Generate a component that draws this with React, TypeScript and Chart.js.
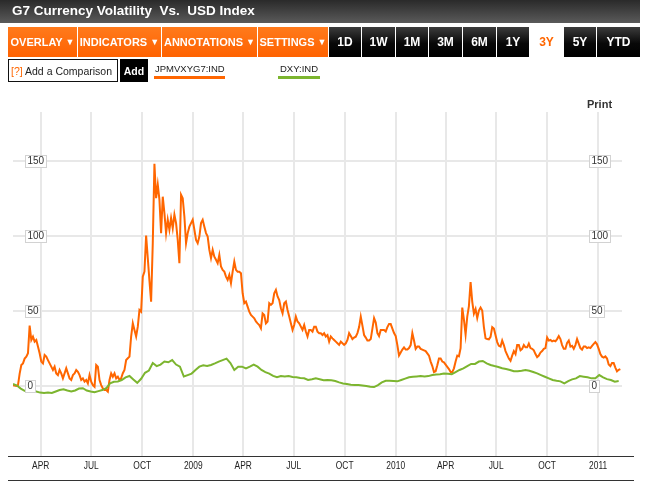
import React, { useEffect, useRef } from "react";
import { Chart, registerables } from "chart.js";

Chart.register(...registerables);

// ---- data (days counted from 2008-01-01) ----
const START_DAY = 41; // 2008-02-11
const JPM_STEP_DAYS = 3; // JPMVXYG7 read every 3 days
const DXY_STEP_DAYS = 7; // DXY read once a week
const X_MIN = 41;
const X_MAX = 1139;
const Y_MIN = -47;
const Y_MAX = 182.5;

const quarterTickDays = [91, 182, 274, 366, 456, 547, 639, 731, 821, 912, 1004, 1096];
const quarterTickLabels = ["APR", "JUL", "OCT", "2009", "APR", "JUL", "OCT", "2010", "APR", "JUL", "OCT", "2011"];
const yTickValues = [0, 50, 100, 150];
const yTickLabels = ["0", "50", "100", "150"];

const jpmvxyg7 = [
  0.3, 0, -0.3, 0.3, 8, 13.7, 14.8, 18, 19.3, 21.5,
  40, 30.4, 32.6, 29.3, 30.4, 26, 21.5, 16, 14.8, 20.4,
  19.3, 17, 14.8, 12.6, 10.4, 12.6, 8.1, 7, 10.4, 8.1,
  4.8, 8.1, 11.5, 8.1, 4.8, 3.7, 7, 8.1, 10.4, 9.2,
  7, 3.7, 4.8, 2.6, 3.7, 1.4, 7, 2.6, 0.3, -0.8,
  13.7, 12.6, 3.7, 0.3, -1.9, -3, -3, -4.1, 3.7, 8.1,
  5.9, 8.1, 4.8, 5.9, 3.8, 4.9, 8.2, 10.4, 17, 18.2,
  19.3, 32.7, 41.6, 37, 32.7, 39.3, 50.4, 49.3, 72.7, 76,
  100, 85, 70, 56, 95, 148, 125, 134, 124, 101.7,
  126, 115, 101.7, 110.6, 104, 111.7, 105, 114, 108.4, 97.2,
  81.6, 127.3, 125, 112.8, 95, 101.7, 106, 108.4, 110.6, 104,
  97.2, 95, 99.4, 108.4, 110.6, 106, 101.7, 99.4, 90.5, 85,
  90.5, 86, 83.9, 81.6, 87.2, 79.4, 77.2, 76, 72.7, 70.5,
  73.8, 68.3, 76, 82.7, 77.2, 76, 76, 75, 61.6, 54.9,
  56, 52.7, 49.3, 47.1, 46, 44.9, 42.7, 41.5, 40.4, 38.2,
  48.2, 47.1, 41.5, 42.7, 54.9, 53.8, 54.9, 61.6, 63.8, 59.4,
  57.1, 51.6, 48.2, 54.9, 56, 50.4, 46, 41.5, 37.1, 40.4,
  46, 42.7, 41.5, 39.3, 37.1, 40.4, 36, 32.7, 37.1, 37.1,
  36, 39.3, 39.3, 36, 34.9, 34.9, 33.7, 34.9, 32.7, 33.7,
  29.3, 32.7, 31.5, 30.4, 29.3, 28.2, 27.1, 29.3, 28.2, 27.1,
  28.2, 30.4, 34.9, 33, 31, 32, 32.6, 35, 39, 46,
  40, 33.7, 32, 30, 30, 31, 38, 45, 42, 35,
  33, 37, 37, 37, 36, 39, 41, 41, 38, 35,
  33, 27, 20, 22, 24, 25.5, 24, 24, 25, 27,
  35, 30, 24.5, 26, 26, 24.5, 24, 23.5, 23, 21.5,
  20, 16, 13, 9, 9.5, 13.5, 18, 18, 16, 15.5,
  14, 12.5, 11, 9, 9, 11.5, 16, 20, 19.5, 25,
  52, 44, 34, 46, 53, 69, 56, 48, 51, 45,
  50, 52, 50, 39, 31.5, 31, 30.8, 32.5, 39, 38,
  33.5, 29, 26.5, 26, 30, 27, 23, 20.5, 18, 16.5,
  20, 23, 21, 27, 27, 23.5, 24.5, 27, 25.5, 25.5,
  28, 25, 24.5, 23.5, 21, 19, 20, 22, 23, 24.5,
  25, 32, 30, 30.4, 29.5, 30, 29.5, 31, 33, 31,
  27, 24.5, 24.5, 28.5, 30, 26, 26.5, 24.5, 27, 31,
  28, 25, 24, 26, 26, 25, 25.5, 25, 26.5, 27.8,
  29, 27.5, 24.5, 21, 19.3, 18.7, 19.5, 18, 14, 13,
  15, 15, 12, 9.5, 10.5, 11,
];

const dxy = [
  1, 0, -2, -3.5, -4.2, -4, -4, -4.7, -5, -4.7,
  -5, -4, -3, -2.5, -3.3, -4, -3.3, -2, -1.8, -3.3,
  -4, -4.5, -3.7, -3, -1.8, 1.5, 2.5, 2.7, 3.7, 5.5,
  6.4, 4, 1.8, 4.5, 8.5, 10, 15, 13, 14, 16,
  15.5, 17, 14, 12.6, 6, 7, 8, 10.4, 12.6, 13.5,
  13, 13.7, 14.8, 16, 17, 18, 15, 10.4, 12.6, 12.6,
  11.5, 12.6, 14, 12.6, 10.4, 9, 8, 6.5, 5.5, 6.4,
  6, 6.4, 5.7, 5.5, 5, 4.8, 3.7, 4.2, 4.8, 4.2,
  3.5, 3.7, 3.5, 3, 2.1, 1.4, 1, 0.5, 0.3, 0.3,
  0.1, -0.3, -0.8, -1, 0.3, 2.1, 3.2, 3.2, 3, 2.8,
  3.7, 4.6, 5.5, 5.9, 6.1, 6.3, 6.1, 6.3, 7, 7.4,
  7.6, 8.1, 7.9, 7.6, 9, 10.4, 11.5, 13, 14.4, 14.4,
  16, 16.4, 14.8, 13.7, 13, 12.4, 11.5, 11, 10.4, 9.5,
  9.5, 9.9, 10.4, 9.9, 9, 8.1, 7, 5.9, 4.8, 3.7,
  3.2, 2.8, 1.4, 3, 4.1, 4.8, 6.3, 5.9, 5.5, 4.8,
  4.8, 7, 5.5, 4.3, 3.7, 2.6, 3,
];

const seriesNames = ["JPMVXYG7:IND", "DXY:IND"];
const menuLabels = ["OVERLAY", "INDICATORS", "ANNOTATIONS", "SETTINGS"];
const rangeLabels = ["1D", "1W", "1M", "3M", "6M", "1Y", "3Y", "5Y", "YTD"];
const activeRange = "3Y";

// ---- styles ----
const FONT = "'Liberation Sans', Arial, Helvetica, sans-serif";
const ORANGE = "#ff6600";
const GREEN = "#7cb52f";
const menuLayout = [
  { left: 8, width: 69 },
  { left: 78, width: 83 },
  { left: 162, width: 95 },
  { left: 258, width: 70 },
];
const rangeLayout = [
  { left: 329, width: 32 },
  { left: 362, width: 33 },
  { left: 396, width: 32 },
  { left: 429, width: 33 },
  { left: 463, width: 33 },
  { left: 497, width: 32 },
  { left: 530, width: 33 },
  { left: 564, width: 32 },
  { left: 597, width: 43 },
];

const overlayPlugin = {
  id: "overlayText",
  afterDatasetsDraw(chart: any) {
    const { ctx, chartArea, scales } = chart;
    const xs = scales.x;
    const ys = scales.y;
    ctx.save();
    // axis lines
    ctx.strokeStyle = "#333";
    ctx.lineWidth = 1.2;
    const by = Math.round(chartArea.bottom) + 0.5;
    ctx.beginPath();
    ctx.moveTo(8, by);
    ctx.lineTo(634, by);
    ctx.stroke();
    ctx.beginPath();
    ctx.moveTo(8, 480.5);
    ctx.lineTo(634, 480.5);
    ctx.stroke();
    // x labels (narrow)
    ctx.font = "10px " + FONT;
    ctx.fillStyle = "#222";
    ctx.textAlign = "center";
    ctx.textBaseline = "middle";
    quarterTickDays.forEach((d, i) => {
      ctx.save();
      ctx.translate(xs.getPixelForValue(d), by + 9.5);
      ctx.scale(0.84, 1.05);
      ctx.fillText(quarterTickLabels[i], 0, 0);
      ctx.restore();
    });
    // y labels in boxes, both sides
    ctx.font = "10px " + FONT;
    ctx.textAlign = "left";
    yTickValues.forEach((v, i) => {
      const py = Math.round(ys.getPixelForValue(v));
      const label = yTickLabels[i];
      const w = Math.round(ctx.measureText(label).width) + 4;
      [25, 589].forEach((left) => {
        ctx.fillStyle = "#fff";
        ctx.fillRect(left, py - 6, w, 12);
        ctx.strokeStyle = "#d2d2d2";
        ctx.lineWidth = 1;
        ctx.strokeRect(left + 0.5, py - 6 + 0.5, w, 12);
        ctx.fillStyle = "#333";
        ctx.fillText(label, left + 2.5, py + 0.5);
      });
    });
    ctx.restore();
  },
};

export default function App() {
  const canvasRef = useRef<HTMLCanvasElement | null>(null);

  useEffect(() => {
    if (!canvasRef.current) return;
    const toPoints = (arr: number[], step: number) =>
      arr.map((v, i) => ({ x: START_DAY + i * step, y: v }));
    const chart = new Chart(canvasRef.current, {
      type: "line",
      data: {
        datasets: [
          {
            label: seriesNames[1],
            data: toPoints(dxy, DXY_STEP_DAYS),
            borderColor: GREEN,
            borderWidth: 2,
            pointRadius: 0,
            tension: 0,
            fill: false,
          },
          {
            label: seriesNames[0],
            data: toPoints(jpmvxyg7, JPM_STEP_DAYS),
            borderColor: ORANGE,
            borderWidth: 2,
            pointRadius: 0,
            tension: 0,
            fill: false,
          },
        ],
      },
      options: {
        responsive: false,
        animation: false,
        events: [],
        layout: { padding: { left: 13, right: 27, top: 112, bottom: 27 } },
        plugins: { legend: { display: false }, tooltip: { enabled: false } },
        scales: {
          x: {
            type: "linear",
            min: X_MIN,
            max: X_MAX,
            afterBuildTicks: (s: any) => {
              s.ticks = quarterTickDays.map((v) => ({ value: v }));
            },
            ticks: { display: false },
            grid: { color: "#e8e8e8", lineWidth: 2, drawTicks: false },
            border: { display: false },
          },
          y: {
            type: "linear",
            min: Y_MIN,
            max: Y_MAX,
            afterBuildTicks: (s: any) => {
              s.ticks = yTickValues.map((v) => ({ value: v }));
            },
            ticks: { display: false },
            grid: { color: "#e8e8e8", lineWidth: 2, drawTicks: false },
            border: { display: false },
          },
        },
      },
      plugins: [overlayPlugin],
    } as any);
    return () => chart.destroy();
  }, []);

  return (
    <div
      style={{
        position: "absolute",
        left: 0,
        top: 0,
        width: 649,
        height: 483,
        background: "#fff",
        overflow: "hidden",
        fontFamily: FONT,
      }}
    >
      <canvas ref={canvasRef} width={649} height={483} style={{ position: "absolute", left: 0, top: 0 }} />
      {/* title bar */}
      <div
        style={{
          position: "absolute",
          left: 0,
          top: 0,
          width: 640,
          height: 23,
          background: "linear-gradient(#2a2a2a, #5a5a5a)",
        }}
      >
        <span
          style={{
            position: "absolute",
            left: 12,
            top: 3,
            color: "#fff",
            fontWeight: "bold",
            fontSize: 13.5,
            lineHeight: "16px",
            whiteSpace: "pre",
          }}
        >
          {"G7 Currency Volatility  Vs.  USD Index"}
        </span>
      </div>
      {/* menu buttons */}
      {menuLabels.map((m, i) => (
        <div
          key={m}
          style={{
            position: "absolute",
            left: menuLayout[i].left,
            top: 27,
            width: menuLayout[i].width,
            height: 30,
            background: "linear-gradient(#ff7a1c, #ff6200)",
            color: "#fff",
            fontSize: 11,
            fontWeight: "bold",
            display: "flex",
            alignItems: "center",
            justifyContent: "center",
            whiteSpace: "pre",
          }}
        >
          {m + " "}
          <span style={{ fontSize: 9 }}>▼</span>
        </div>
      ))}
      {/* range buttons */}
      {rangeLabels.map((r, i) => {
        const active = r === activeRange;
        return (
          <div
            key={r}
            style={{
              position: "absolute",
              left: rangeLayout[i].left,
              top: 27,
              width: rangeLayout[i].width,
              height: 30,
              background: active ? "#fff" : "linear-gradient(#3c3c3c, #080808 55%, #000)",
              color: active ? ORANGE : "#fff",
              fontSize: 12,
              fontWeight: "bold",
              display: "flex",
              alignItems: "center",
              justifyContent: "center",
            }}
          >
            {r}
          </div>
        );
      })}
      {/* comparison row */}
      <div
        style={{
          position: "absolute",
          left: 8,
          top: 59,
          width: 108,
          height: 21,
          border: "1px solid #111",
          fontSize: 10.5,
          color: "#222",
          display: "flex",
          alignItems: "center",
          whiteSpace: "pre",
        }}
      >
        <span style={{ color: ORANGE, marginLeft: 2 }}>[?]</span>
        <span>{" Add a Comparison"}</span>
      </div>
      <div
        style={{
          position: "absolute",
          left: 120,
          top: 59,
          width: 28,
          height: 23,
          background: "#000",
          color: "#fff",
          fontSize: 10.5,
          fontWeight: "bold",
          display: "flex",
          alignItems: "center",
          justifyContent: "center",
        }}
      >
        Add
      </div>
      <div style={{ position: "absolute", left: 155, top: 63, fontSize: 9.5, color: "#222", lineHeight: "12px" }}>
        {seriesNames[0]}
      </div>
      <div style={{ position: "absolute", left: 154, top: 76, width: 71, height: 3, background: ORANGE }} />
      <div style={{ position: "absolute", left: 280, top: 63, fontSize: 9.5, color: "#222", lineHeight: "12px" }}>
        {seriesNames[1]}
      </div>
      <div style={{ position: "absolute", left: 278, top: 76, width: 42, height: 3, background: GREEN }} />
      {/* print */}
      <div
        style={{
          position: "absolute",
          left: 587,
          top: 98,
          fontSize: 11,
          fontWeight: "bold",
          color: "#333",
          lineHeight: "13px",
        }}
      >
        Print
      </div>
    </div>
  );
}
